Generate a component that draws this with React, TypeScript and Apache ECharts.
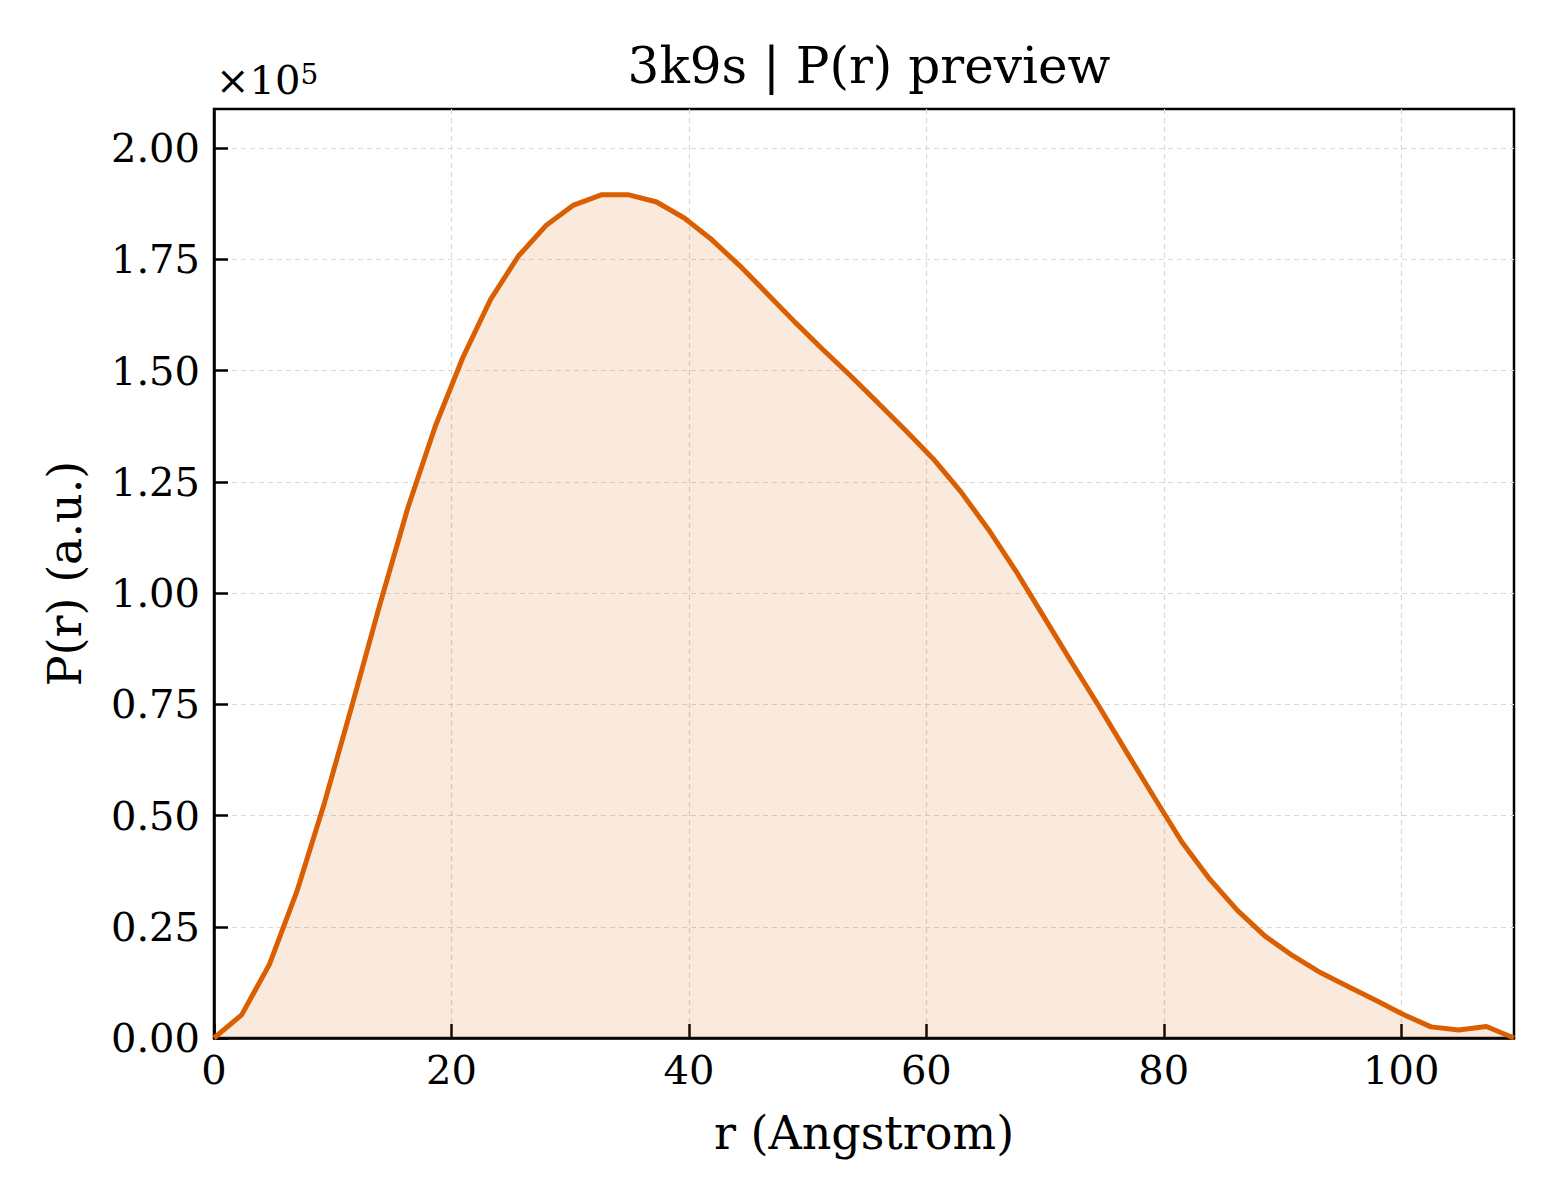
import React, { useEffect, useRef } from 'react';
import * as echarts from 'echarts';

// r grid (Angstrom) and P(r) values read from the preview
const rValues = [
  0, 2.33, 4.66, 6.99, 9.32, 11.65, 13.98, 16.31, 18.64, 20.97, 23.3, 25.63,
  27.96, 30.29, 32.62, 34.95, 37.28, 39.61, 41.94, 44.27, 46.6, 48.93, 51.26,
  53.59, 55.91, 58.24, 60.57, 62.9, 65.23, 67.56, 69.89, 72.22, 74.55, 76.88,
  79.21, 81.54, 83.87, 86.2, 88.53, 90.86, 93.19, 95.52, 97.85, 100.18, 102.51,
  104.84, 107.17, 109.5,
];

// in units of 1e5
const prValues = [
  0, 0.052, 0.165, 0.33, 0.53, 0.75, 0.975, 1.19, 1.375, 1.53, 1.66, 1.757,
  1.826, 1.872, 1.895, 1.895, 1.879, 1.843, 1.794, 1.736, 1.673, 1.609, 1.548,
  1.489, 1.428, 1.366, 1.302, 1.228, 1.143, 1.049, 0.947, 0.845, 0.745, 0.642,
  0.54, 0.44, 0.357, 0.287, 0.229, 0.185, 0.147, 0.116, 0.085, 0.053, 0.025,
  0.018, 0.026, 0,
];

const SCALE = 1e5;
const FONT = 'DejaVu Serif';
const LINE_COLOR = '#d95f02';

const PrChart: React.FC = () => {
  const chartRef = useRef<HTMLDivElement>(null);

  useEffect(() => {
    if (!chartRef.current) return;
    const chart = echarts.init(chartRef.current, undefined, { renderer: 'svg' });

    const data = rValues.map((r, i) => [r, prValues[i] * SCALE]);

    const gridLine = { show: true, showMinLine: false, showMaxLine: false, lineStyle: { color: '#d8d8d8', width: 1.2, type: [5, 4] as number[] } };
    const tick = { show: true, inside: true, length: 14, lineStyle: { color: '#000', width: 2.5 } };

    const option: echarts.EChartsOption = {
      animation: false,
      backgroundColor: '#fff',
      textStyle: { fontFamily: FONT, color: '#000' },
      title: {
        text: '3k9s | P(r) preview',
        left: 864,
        top: 36,
        textAlign: 'center',
        textStyle: { fontFamily: FONT, fontSize: 50, fontWeight: 'normal', color: '#000' },
      },
      graphic: [
        {
          type: 'text',
          left: 216,
          top: 60,
          style: {
            text: '{b|×10}{s|5}',
            fill: '#000',
            rich: {
              b: { fontFamily: FONT, fontSize: 40, lineHeight: 40, verticalAlign: 'bottom' },
              s: { fontFamily: FONT, fontSize: 28, lineHeight: 40, verticalAlign: 'top', padding: [0, 0, 12, 0] },
            },
          },
        },
      ],
      grid: {
        left: 214,
        top: 109,
        right: 46,
        bottom: 162,
        show: true,
        borderColor: '#000',
        borderWidth: 2.5,
        backgroundColor: 'transparent',
      },
      xAxis: {
        type: 'value',
        min: 0,
        max: 109.5,
        interval: 20,
        name: 'r (Angstrom)',
        nameLocation: 'middle',
        nameGap: 72,
        nameTextStyle: { fontFamily: FONT, fontSize: 46, color: '#000' },
        axisLine: { show: true, lineStyle: { color: '#000', width: 2.5 } },
        axisTick: tick,
        axisLabel: {
          fontFamily: FONT,
          fontSize: 40,
          color: '#000',
          margin: 12,
          showMaxLabel: false,
          formatter: (v: number) => (v % 20 === 0 ? String(v) : ''),
        },
        splitLine: gridLine,
      },
      yAxis: {
        type: 'value',
        min: 0,
        max: 2.088 * SCALE,
        interval: 0.25 * SCALE,
        name: 'P(r) (a.u.)',
        nameLocation: 'middle',
        nameGap: 126,
        nameTextStyle: { fontFamily: FONT, fontSize: 46, color: '#000' },
        axisLine: { show: true, lineStyle: { color: '#000', width: 2.5 } },
        axisTick: tick,
        axisLabel: {
          fontFamily: FONT,
          fontSize: 40,
          color: '#000',
          margin: 14,
          showMaxLabel: false,
          formatter: (v: number) => (v / SCALE).toFixed(2),
        },
        splitLine: gridLine,
      },
      series: [
        {
          type: 'line',
          data,
          showSymbol: false,
          symbol: 'none',
          lineStyle: { color: LINE_COLOR, width: 5 },
          areaStyle: { color: LINE_COLOR, opacity: 0.13 },
          z: 3,
        },
      ],
    };

    chart.setOption(option);

    const handleResize = () => chart.resize();
    window.addEventListener('resize', handleResize);
    return () => {
      window.removeEventListener('resize', handleResize);
      chart.dispose();
    };
  }, []);

  return (
    <div
      ref={chartRef}
      style={{ position: 'absolute', left: 0, top: 0, width: 1560, height: 1200 }}
    />
  );
};

export default function App() {
  return <PrChart />;
}
